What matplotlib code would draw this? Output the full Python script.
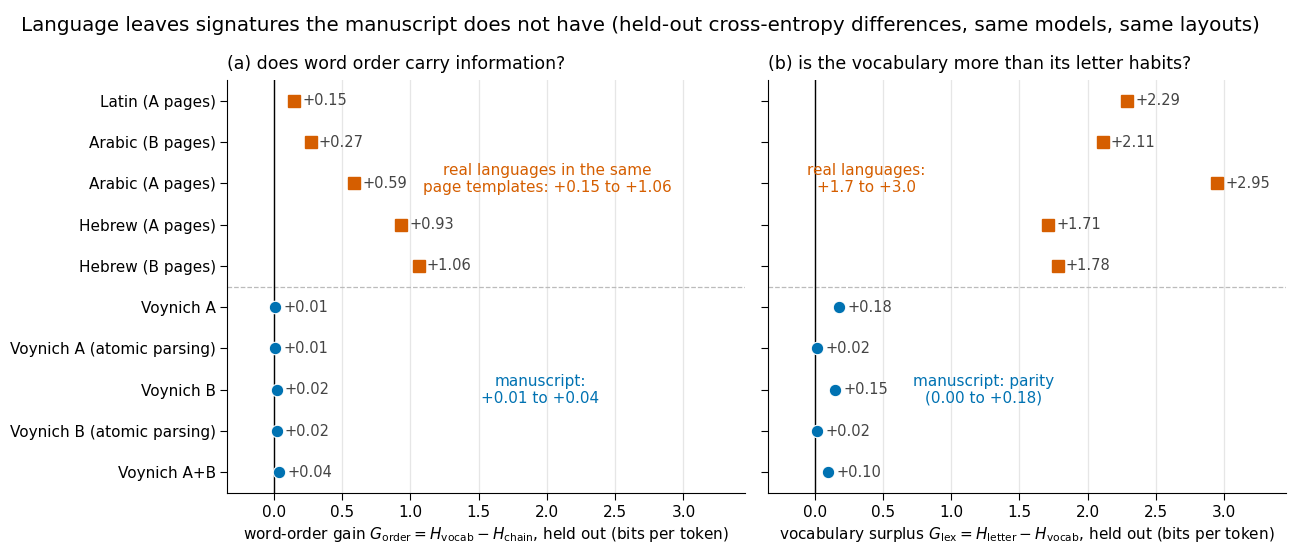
import numpy as np
import matplotlib.pyplot as plt

labels = ["Latin (A pages)", "Arabic (B pages)", "Arabic (A pages)", "Hebrew (A pages)",
          "Hebrew (B pages)", "Voynich A", "Voynich A (atomic parsing)", "Voynich B",
          "Voynich B (atomic parsing)", "Voynich A+B"]
order_gain = [0.15, 0.27, 0.59, 0.93, 1.06, 0.01, 0.01, 0.02, 0.02, 0.04]
lex_gain = [2.29, 2.11, 2.95, 1.71, 1.78, 0.18, 0.02, 0.15, 0.02, 0.10]
is_lang = [True] * 5 + [False] * 5

ORANGE = "#d55e00"
BLUE = "#0072b2"

fig = plt.figure(figsize=(13, 5.58), dpi=100)
ax1 = fig.add_axes([0.175, 0.1165, 0.398, 0.740])
ax2 = fig.add_axes([0.591, 0.1165, 0.398, 0.740])

def panel(ax, vals, title, xlabel, show_labels):
    y = np.arange(len(vals))
    for yi, v, lang in zip(y, vals, is_lang):
        if lang:
            ax.plot(v, yi, "s", color=ORANGE, markersize=9, zorder=3)
        else:
            ax.plot(v, yi, "o", color=BLUE, markersize=9, markeredgecolor="white",
                    markeredgewidth=0.8, zorder=3)
        ax.text(v + 0.06, yi, f"+{v:.2f}", va="center", ha="left", fontsize=10.5, color="#444444")
    ax.axvline(0, color="black", lw=1, zorder=2)
    ax.axhline(4.5, color="#bbbbbb", lw=0.9, ls="--", zorder=1)
    ax.set_xlim(-0.34, 3.45)
    ax.set_ylim(9.5, -0.5)
    ax.set_xticks([0, 0.5, 1, 1.5, 2, 2.5, 3])
    ax.grid(axis="x", color="#e6e6e6", lw=0.9)
    ax.set_axisbelow(True)
    ax.set_yticks(y)
    ax.set_yticklabels(labels if show_labels else [])
    ax.tick_params(labelsize=11, length=5)
    ax.spines["top"].set_visible(False)
    ax.spines["right"].set_visible(False)
    ax.set_title(title, loc="left", fontsize=12.5, pad=8)
    ax.set_xlabel(xlabel, fontsize=11)

panel(ax1, order_gain, "(a) does word order carry information?",
      r"word-order gain $G_{\mathrm{order}} = H_{\mathrm{vocab}} - H_{\mathrm{chain}}$, held out (bits per token)", True)
panel(ax2, lex_gain, "(b) is the vocabulary more than its letter habits?",
      r"vocabulary surplus $G_{\mathrm{lex}} = H_{\mathrm{letter}} - H_{\mathrm{vocab}}$, held out (bits per token)", False)

ax1.text(2.0, 1.9, "real languages in the same\npage templates: +0.15 to +1.06",
         ha="center", va="center", color=ORANGE, fontsize=11)
ax1.text(1.95, 7.0, "manuscript:\n+0.01 to +0.04", ha="center", va="center", color=BLUE, fontsize=11)
ax2.text(0.38, 1.9, "real languages:\n+1.7 to +3.0", ha="center", va="center", color=ORANGE, fontsize=11)
ax2.text(1.24, 7.0, "manuscript: parity\n(0.00 to +0.18)", ha="center", va="center", color=BLUE, fontsize=11)

fig.text(0.016, 0.955, "Language leaves signatures the manuscript does not have (held-out cross-entropy differences, same models, same layouts)",
         fontsize=14.3, ha="left", va="center")

fig.savefig("out.png", dpi=100)
